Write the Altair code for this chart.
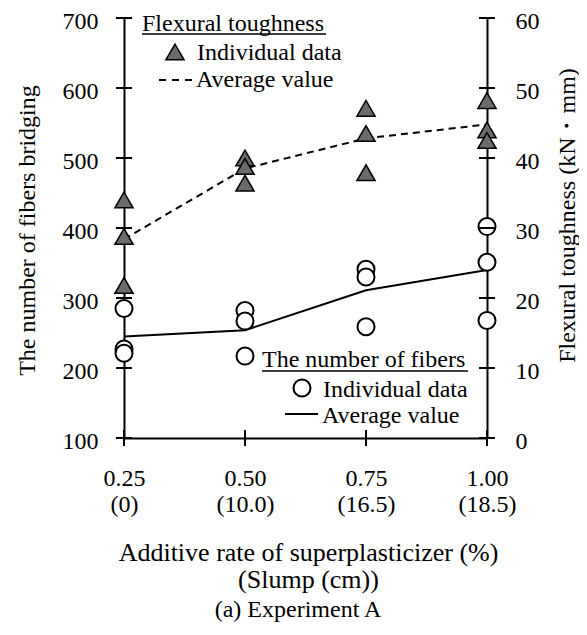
import altair as alt
import pandas as pd

# ---------------- data ----------------
x_vals = [0.25, 0.50, 0.75, 1.00]
x_text = ["0.25", "0.50", "0.75", "1.00"]
slump_text = ["(0)", "(10.0)", "(16.5)", "(18.5)"]

fiber_ind = [[285, 227, 221], [282, 267, 217], [341, 330, 259], [402, 351, 268]]
fiber_avg = [245, 254, 311, 340]

tough_ind = [[34.0, 28.8, 21.8], [40.0, 38.8, 36.4], [47.1, 43.5, 37.9], [48.2, 44.0, 42.5]]
tough_avg = [28.4, 38.5, 42.8, 44.8]

left_ticks = [100, 200, 300, 400, 500, 600, 700]
right_ticks = [0, 10, 20, 30, 40, 50, 60]

# ---------------- tables ----------------
fib_pts = pd.DataFrame([{"x": x, "v": v} for x, vs in zip(x_vals, fiber_ind) for v in vs])
fib_avg = pd.DataFrame({"x": x_vals, "v": fiber_avg})
tgh_pts = pd.DataFrame([{"x": x, "v": v} for x, vs in zip(x_vals, tough_ind) for v in vs])
tgh_avg = pd.DataFrame({"x": x_vals, "v": tough_avg})
lt = pd.DataFrame({"x": [x_vals[0]] * len(left_ticks), "v": left_ticks})
rt = pd.DataFrame({"x": [x_vals[-1]] * len(right_ticks), "v": right_ticks})
xt = pd.DataFrame({"x": x_vals, "v": [left_ticks[0]] * len(x_vals)})

FONT = "Liberation Serif"
FS = 24
W, H = 363, 420

# label expression for two-line x labels
expr = "['', '']"
for xv, a, b in reversed(list(zip(x_vals, x_text, slump_text))):
    expr = f"(abs(datum.value - {xv}) < 0.01 ? ['{a}', '{b}'] : {expr})"

x_axis = alt.Axis(
    values=x_vals, ticks=False, grid=False, domain=True, domainColor="black", domainWidth=2,
    labelExpr=expr, labelFont=FONT, labelFontSize=FS, labelColor="black",
    labelBaseline="alphabetic", labelPadding=47, labelLineHeight=26, labelFlush=False,
    labelOverlap=False,
    title=["Additive rate of superplasticizer (%)", "(Slump (cm))"],
    titleFont=FONT, titleFontSize=26, titleFontWeight="normal", titleColor="black",
    titleX=184, titleY=122, titleAlign="center", titleBaseline="alphabetic", titleLineHeight=27,
)
X = alt.X("x:Q", scale=alt.Scale(domain=[0.25, 1.0], nice=False, zero=False), axis=x_axis)

left_axis = alt.Axis(
    orient="left", values=left_ticks, ticks=False, grid=False, domainColor="black", domainWidth=2,
    labelFont=FONT, labelFontSize=FS, labelColor="black", labelPadding=26, labelFlush=False,
    labelOffset=3,
    title="The number of fibers bridging", titleFont=FONT, titleFontSize=FS,
    titleFontWeight="normal", titleColor="black", titleAngle=270, titleX=-97, titleY=212,
    titleAlign="center", titleBaseline="middle",
)
right_axis = alt.Axis(
    orient="right", values=right_ticks, ticks=False, grid=False, domainColor="black", domainWidth=2,
    labelFont=FONT, labelFontSize=FS, labelColor="black", labelPadding=28, labelFlush=False,
    labelOffset=3,
    title="Flexural toughness (kN・mm)", titleFont=FONT, titleFontSize=FS,
    titleFontWeight="normal", titleColor="black", titleAngle=270, titleX=80, titleY=197,
    titleAlign="center", titleBaseline="middle",
)
YL = alt.Y("v:Q", scale=alt.Scale(domain=[100, 700], nice=False, zero=False), axis=left_axis)
YR = alt.Y("v:Q", scale=alt.Scale(domain=[0, 60], nice=False, zero=False), axis=right_axis)

one = alt.Data(values=[{}])


def txt(s, x, y, align="left"):
    return alt.Chart(one).mark_text(
        text=s, font=FONT, fontSize=FS, align=align, baseline="alphabetic", color="black"
    ).encode(x=alt.value(x), y=alt.value(y))


def seg(x1, x2, y, dash=None, w=2):
    kw = {"color": "black", "strokeWidth": w}
    if dash:
        kw["strokeDash"] = dash
    return alt.Chart(one).mark_rule(**kw).encode(x=alt.value(x1), x2=alt.value(x2), y=alt.value(y))


circle_style = dict(shape="circle", filled=True, fill="white", stroke="black", strokeWidth=2,
                    size=290, opacity=1)
tri_style = dict(shape="triangle-up", filled=True, fill="#6b6b6b", stroke="black", strokeWidth=1.5,
                 size=330, opacity=1)

# ---------------- left (fibers) ----------------
fib_line = alt.Chart(fib_avg).mark_line(color="black", strokeWidth=2).encode(x=X, y=YL)
fib_circ = alt.Chart(fib_pts).mark_point(**circle_style).encode(x=X, y=YL)
lticks = alt.Chart(lt).mark_tick(orient="horizontal", size=16, thickness=2, color="black",
                                 opacity=1).encode(x=X, y=YL)
xticks = alt.Chart(xt).mark_tick(orient="vertical", size=16, thickness=2, color="black",
                                 opacity=1).encode(x=X, y=YL)

leg2 = [
    txt("The number of fibers", 138, 349),
    seg(138, 344, 353, w=1.5),
    alt.Chart(one).mark_point(**circle_style).encode(x=alt.value(178), y=alt.value(370)),
    txt("Individual data", 199, 379),
    seg(161, 194, 396),
    txt("Average value", 198, 405),
    txt("(a) Experiment A", 174, 599, align="center"),
]

left = alt.layer(fib_line, fib_circ, lticks, xticks, *leg2)

# ---------------- right (toughness) ----------------
tgh_line = alt.Chart(tgh_avg).mark_line(color="black", strokeWidth=2, strokeDash=[7, 5]).encode(x=X, y=YR)
tgh_tri = alt.Chart(tgh_pts).mark_point(**tri_style).encode(x=X, y=YR)
rticks = alt.Chart(rt).mark_tick(orient="horizontal", size=16, thickness=2, color="black",
                                 opacity=1).encode(x=X, y=YR)

leg1 = [
    txt("Flexural toughness", 18, 13),
    seg(18, 202, 16, w=1.5),
    alt.Chart(one).mark_point(**tri_style).encode(x=alt.value(51), y=alt.value(34)),
    txt("Individual data", 73, 42),
    seg(35, 71, 62, dash=[7, 6]),
    txt("Average value", 72, 69),
]

right = alt.layer(tgh_line, rticks, tgh_tri, *leg1)

chart = (
    alt.layer(left, right)
    .resolve_scale(y="independent")
    .properties(
        width=W, height=H,
        autosize=alt.AutoSizeParams(type="none"),
        padding={"left": 116, "top": 10, "right": 92, "bottom": 187},
        background="white",
    )
    .configure_view(stroke=None)
)

chart.save("out.html", embed_options={"renderer": "svg", "actions": False})
